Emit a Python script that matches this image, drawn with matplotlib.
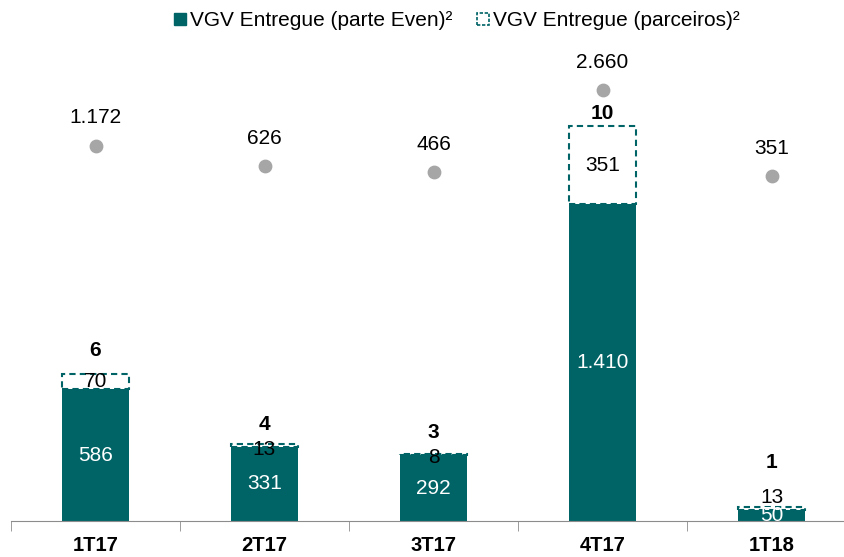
import numpy as np
import matplotlib.pyplot as plt
from matplotlib.patches import Patch

plt.rcParams['font.family'] = ['Liberation Sans', 'DejaVu Sans']

# data
quarters = ["1T17", "2T17", "3T17", "4T17", "1T18"]
vgv_even = [586, 331, 292, 1410, 50]
vgv_parceiros = [70, 13, 8, 351, 13]
n_empreendimentos = [6, 4, 3, 10, 1]
vgv_total = [1172, 626, 466, 2660, 351]

even_lbl = ["586", "331", "292", "1.410", "50"]
parc_lbl = ["70", "13", "8", "351", "13"]
total_lbl = ["1.172", "626", "466", "2.660", "351"]

# label nudges (points) so the labels sit like in the original slide
count_dy = [17, 14, 15, 9, 32]
parc_dy = [0, -3, -2, 0, 8]

teal = "#006466"
grey = "#a6a6a6"
fs = 15

W, H = 845, 557
fig = plt.figure(figsize=(W / 100, H / 100), dpi=100)
ax = fig.add_axes([11 / W, 36 / H, 845 / W, 491 / H])

x = np.arange(len(quarters))
width = 0.40

ax.bar(x, vgv_even, width, color=teal, zorder=2)
ax.bar(x, vgv_parceiros, width, bottom=vgv_even, facecolor="white",
       edgecolor=teal, linestyle=(0, (3, 2)), linewidth=1.5, zorder=2)

for i in range(len(x)):
    ax.text(x[i], vgv_even[i] / 2, even_lbl[i], ha="center", va="center",
            color="white", fontsize=fs, zorder=3)
    ax.annotate(parc_lbl[i], (x[i], vgv_even[i] + vgv_parceiros[i] / 2),
                xytext=(0, parc_dy[i]), textcoords="offset points",
                ha="center", va="center", color="black", fontsize=fs, zorder=3)
    ax.annotate(str(n_empreendimentos[i]),
                (x[i], vgv_even[i] + vgv_parceiros[i]),
                xytext=(0, count_dy[i]), textcoords="offset points",
                ha="center", va="center", fontsize=fs, fontweight="bold")

ax.set_xlim(-0.5, 4.5)
ax.set_ylim(0, 2187)
ax.set_xticks(x)
ax.set_xticklabels(quarters, fontsize=14.5, fontweight="bold")
ax.set_xticks(np.arange(-0.5, 5, 1), minor=True)
ax.tick_params(axis="x", which="major", length=0, pad=11)
ax.tick_params(axis="x", which="minor", length=7, color="#8c8c8c")
ax.set_yticks([])
for s in ["top", "right", "left"]:
    ax.spines[s].set_visible(False)
ax.spines["bottom"].set_color("#8c8c8c")

# VGV total on a separate scale
ax2 = ax.twinx()
ax2.set_ylim(-8854, 4264)
ax2.scatter(x, vgv_total, s=80, color=grey, zorder=3)
for i in range(len(x)):
    ax2.annotate(total_lbl[i], (x[i], vgv_total[i]), xytext=(0, 20),
                 textcoords="offset points", ha="center", va="center",
                 fontsize=fs)
ax2.set_yticks([])
for s in ax2.spines.values():
    s.set_visible(False)

# legend
handles = [Patch(facecolor=teal, edgecolor=teal),
           Patch(facecolor="white", edgecolor=teal, linestyle=(0, (2, 1)), linewidth=1.2)]
fig.legend(handles, ["VGV Entregue (parte Even)²", "VGV Entregue (parceiros)²"],
           loc="center", bbox_to_anchor=(457 / W, 1 - 21 / H), ncol=2,
           frameon=False, fontsize=fs, handlelength=0.55, handleheight=0.55,
           handletextpad=0.2, columnspacing=1.2)

fig.savefig("out.png", dpi=100)
